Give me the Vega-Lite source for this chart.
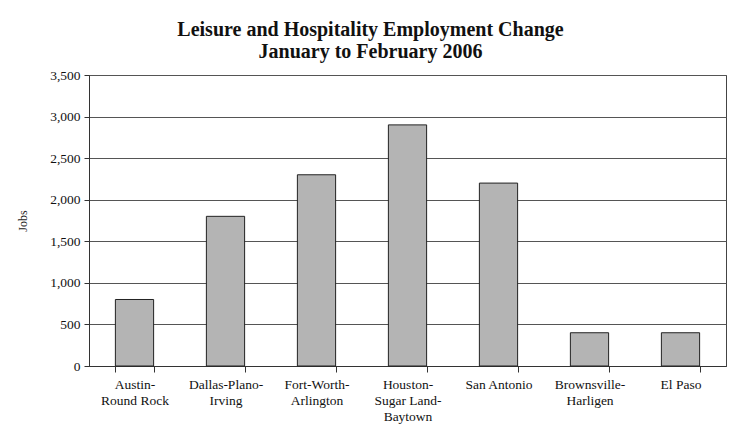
{
  "$schema": "https://vega.github.io/schema/vega-lite/v6.json",
  "width": 637,
  "height": 291,
  "autosize": "none",
  "padding": {"left": 89, "top": 75, "right": 7, "bottom": 70},
  "background": "white",
  "title": {
    "text": ["Leisure and Hospitality Employment Change", "January to February 2006"],
    "font": "Liberation Serif",
    "fontSize": 20,
    "fontWeight": "bold",
    "color": "#111111",
    "anchor": "middle",
    "lineHeight": 22,
    "offset": 6,
    "dx": -37
  },
  "data": {
    "values": [
      {"area": "Austin-|Round Rock", "jobs": 800},
      {"area": "Dallas-Plano-|Irving", "jobs": 1800},
      {"area": "Fort-Worth-|Arlington", "jobs": 2300},
      {"area": "Houston-|Sugar Land-|Baytown", "jobs": 2900},
      {"area": "San Antonio", "jobs": 2200},
      {"area": "Brownsville-|Harligen", "jobs": 400},
      {"area": "El Paso", "jobs": 400}
    ]
  },
  "mark": {"type": "bar", "fill": "#b4b4b4", "stroke": "#222222", "strokeWidth": 1},
  "encoding": {
    "x": {
      "field": "area",
      "type": "nominal",
      "sort": null,
      "scale": {"paddingInner": 0.58, "paddingOuter": 0.29},
      "axis": {
        "title": null,
        "labelAngle": 0,
        "labelExpr": "split(datum.label, '|')",
        "labelFont": "Liberation Serif",
        "labelFontSize": 13.5,
        "labelLineHeight": 16,
        "labelColor": "#111111",
        "labelPadding": 5,
        "tickBand": "extent",
        "tickSize": 6,
        "tickColor": "#333333",
        "domainColor": "#333333",
        "grid": false
      }
    },
    "y": {
      "field": "jobs",
      "type": "quantitative",
      "scale": {"domain": [0, 3500], "nice": false},
      "axis": {
        "title": "Jobs",
        "titleFont": "Liberation Serif",
        "titleFontSize": 12,
        "titleFontWeight": "normal",
        "titleColor": "#222222",
        "titlePadding": 20,
        "values": [0, 500, 1000, 1500, 2000, 2500, 3000, 3500],
        "labelExpr": "format(datum.value, ',')",
        "labelFont": "Liberation Serif",
        "labelFontSize": 13.5,
        "labelColor": "#111111",
        "labelPadding": 4,
        "tickSize": 5,
        "tickColor": "#333333",
        "domainColor": "#333333",
        "grid": true,
        "gridColor": "#555555",
        "gridOpacity": 1
      }
    }
  },
  "config": {
    "font": "Liberation Serif",
    "axis": {"labelFont": "Liberation Serif", "titleFont": "Liberation Serif"},
    "view": {"stroke": "#444444", "strokeWidth": 1}
  }
}
